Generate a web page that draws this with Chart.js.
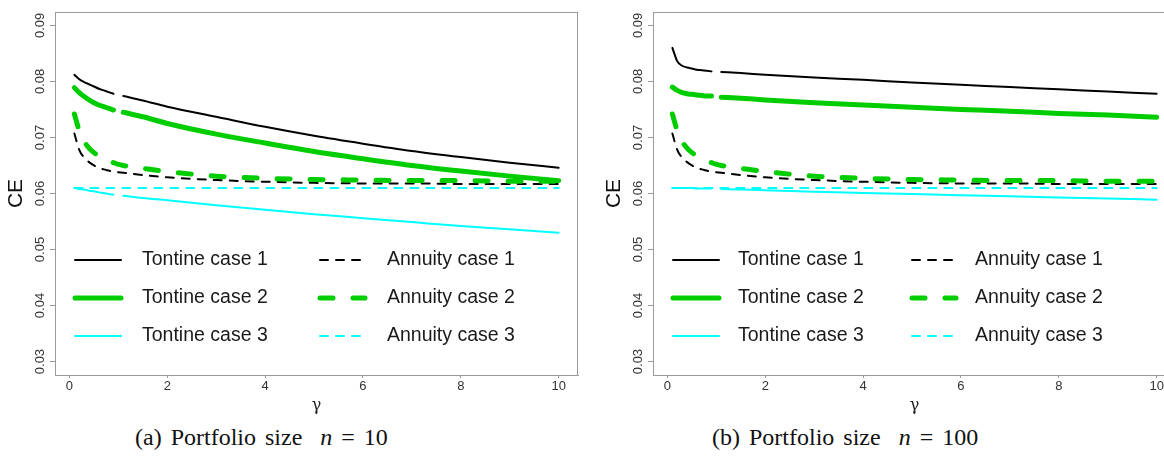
<!DOCTYPE html>
<html>
<head>
<meta charset="utf-8">
<script src="https://cdn.jsdelivr.net/npm/chart.js@4.4.1/dist/chart.umd.min.js"></script>
<style>
  html, body { margin: 0; padding: 0; background: #fff; }
  #page { position: relative; width: 1164px; height: 460px; overflow: hidden; background: #fff; }
  canvas { position: absolute; top: 0; }
  .cap {
    position: absolute; top: 424px; white-space: nowrap;
    font-family: "Liberation Serif", serif; font-size: 24px; word-spacing: 3px; color: #111;
  }
</style>
</head>
<body>
<div id="page">
  <canvas id="chartA" width="590" height="420" style="left:0px"></canvas>
  <canvas id="chartB" width="590" height="420" style="left:598px"></canvas>
  <div class="cap" style="left:135px">(a) Portfolio size&nbsp; <i>n</i> = 10</div>
  <div class="cap" style="left:712px">(b) Portfolio size&nbsp; <i>n</i> = 100</div>
</div>
<script>
// gamma grid (gamma = 1 is left out of the tontine curves)
const gammaGrid = [0.1, 0.2, 0.3, 0.4, 0.5, 0.6, 0.7, 0.8, 0.9, 1.0, 1.1, 1.5, 2, 3, 4, 5, 6, 7, 8, 9, 10];

const xTickValues = [0, 2, 4, 6, 8, 10];
const yTickValues = [0.03, 0.04, 0.05, 0.06, 0.07, 0.08, 0.09];

// annuities do not depend on portfolio size
const annuity1 = [0.0707, 0.0678, 0.0664, 0.0656, 0.0650, 0.0646, 0.0643, 0.0641, 0.0639, 0.0638, 0.0637, 0.0633, 0.0629, 0.0624, 0.0621, 0.0619, 0.0618, 0.0618, 0.0617, 0.0617, 0.0617];
const annuity2 = [0.0742, 0.0712, 0.0693, 0.0681, 0.0673, 0.0667, 0.0662, 0.0658, 0.0655, 0.0652, 0.0650, 0.0645, 0.0639, 0.0631, 0.0627, 0.0625, 0.0624, 0.0623, 0.0623, 0.0622, 0.0622];
const annuity3 = [0.0610, 0.0610, 0.0610, 0.0610, 0.0610, 0.0610, 0.0610, 0.0610, 0.0610, 0.0610, 0.0610, 0.0610, 0.0610, 0.0610, 0.0610, 0.0610, 0.0610, 0.0610, 0.0610, 0.0610, 0.0610];

// portfolio size n = 10
const tontine1A = [0.0812, 0.0804, 0.0799, 0.0795, 0.0791, 0.0787, 0.0784, 0.0781, 0.0778, null, 0.0774, 0.0766, 0.0755, 0.0737, 0.0719, 0.0703, 0.0689, 0.0676, 0.0665, 0.0655, 0.0646];
const tontine2A = [0.0789, 0.0780, 0.0773, 0.0767, 0.0762, 0.0758, 0.0755, 0.0752, 0.0749, null, 0.0745, 0.0737, 0.0725, 0.0706, 0.0690, 0.0675, 0.0662, 0.0650, 0.0640, 0.0631, 0.0623];
const tontine3A = [0.0610, 0.0608, 0.0607, 0.0605, 0.0604, 0.0602, 0.0601, 0.0599, 0.0598, null, 0.0596, 0.0592, 0.0588, 0.0579, 0.0571, 0.0563, 0.0556, 0.0549, 0.0542, 0.0536, 0.0530];

// portfolio size n = 100
const tontine1B = [0.0860, 0.0836, 0.0828, 0.0825, 0.0823, 0.0821, 0.0820, 0.0819, 0.0818, null, 0.0817, 0.0815, 0.0812, 0.0807, 0.0803, 0.0798, 0.0794, 0.0790, 0.0786, 0.0782, 0.0778];
const tontine2B = [0.0790, 0.0784, 0.0780, 0.0778, 0.0777, 0.0776, 0.0775, 0.0774, 0.0774, null, 0.0772, 0.0770, 0.0767, 0.0762, 0.0758, 0.0754, 0.0750, 0.0747, 0.0743, 0.0740, 0.0736];
const tontine3B = [0.0610, 0.0610, 0.0610, 0.0610, 0.0610, 0.0609, 0.0609, 0.0609, 0.0609, null, 0.0608, 0.0607, 0.0606, 0.0603, 0.0601, 0.0599, 0.0597, 0.0595, 0.0593, 0.0591, 0.0589];

const legendRows = [
    ['Tontine case 1', 'Annuity case 1'],
    ['Tontine case 2', 'Annuity case 2'],
    ['Tontine case 3', 'Annuity case 3']
];

const GREEN = '#00cd00';
const CYAN = '#00ffff';
const AXIS_GREY = '#9a9a9a';
const FONT = '"Liberation Sans", Arial, sans-serif';

function toPoints(values) {
    return gammaGrid.map((g, i) => ({ x: g, y: values[i] }));
}

function line(label, values, color, width, dash) {
    return {
        label: label,
        data: toPoints(values),
        borderColor: color,
        borderWidth: width,
        borderDash: dash,
        borderCapStyle: 'round',
        borderJoinStyle: 'round',
        pointRadius: 0,
        fill: false,
        cubicInterpolationMode: 'monotone',
        spanGaps: false
    };
}

// R style box round the plot region
const boxPlugin = {
    id: 'plotBox',
    afterDraw(chart) {
        const { ctx, chartArea } = chart;
        ctx.save();
        ctx.strokeStyle = AXIS_GREY;
        ctx.lineWidth = 1;
        ctx.strokeRect(chartArea.left + 0.5, chartArea.top + 0.5, chartArea.width - 1, chartArea.height);
        ctx.restore();
    }
};

// two column legend inside the plot, like legend(..., ncol = 2)
const rLegendPlugin = {
    id: 'rLegend',
    afterDatasetsDraw(chart, args, opts) {
        const { ctx, chartArea } = chart;
        ctx.save();
        ctx.font = '19.5px ' + FONT;
        ctx.textBaseline = 'middle';
        legendRows.forEach((row, r) => {
            const y = chartArea.top + opts.rowY[r];
            row.forEach((label, c) => {
                const ds = chart.data.datasets.find(d => d.label === label);
                const x0 = chartArea.left + opts.lineX[c][0];
                const x1 = chartArea.left + opts.lineX[c][1];
                ctx.beginPath();
                ctx.strokeStyle = ds.borderColor;
                ctx.lineWidth = ds.borderWidth;
                ctx.lineCap = 'round';
                ctx.setLineDash(ds.borderDash || []);
                ctx.moveTo(x0, y);
                ctx.lineTo(x1, y);
                ctx.stroke();
                ctx.setLineDash([]);
                ctx.fillStyle = '#1a1a1a';
                ctx.fillText(label, chartArea.left + opts.textX[c], y);
            });
        });
        ctx.restore();
    }
};

function makeChart(canvasId, t1, t2, t3, legendLayout) {
    const ctx = document.getElementById(canvasId).getContext('2d');
    return new Chart(ctx, {
        type: 'line',
        data: {
            datasets: [
                line('Annuity case 3', annuity3, CYAN, 2, [8, 8]),
                line('Tontine case 3', t3, CYAN, 2, []),
                line('Annuity case 2', annuity2, GREEN, 5, [13, 20]),
                line('Tontine case 2', t2, GREEN, 5, []),
                line('Annuity case 1', annuity1, '#000000', 2, [8, 8]),
                line('Tontine case 1', t1, '#000000', 2, [])
            ]
        },
        options: {
            responsive: false,
            animation: false,
            layout: { padding: { left: 0, top: 12, right: 12, bottom: 0 } },
            plugins: {
                legend: { display: false },
                tooltip: { enabled: false },
                rLegend: legendLayout
            },
            scales: {
                x: {
                    type: 'linear',
                    min: -0.296,
                    max: 10.396,
                    afterBuildTicks: (scale) => { scale.ticks = xTickValues.map(v => ({ value: v })); },
                    afterFit: (scale) => { scale.height = 45; },
                    ticks: {
                        color: '#333',
                        font: { family: FONT, size: 13 },
                        padding: 1,
                        maxRotation: 0,
                        callback: (v) => String(v)
                    },
                    grid: {
                        drawOnChartArea: false,
                        drawTicks: true,
                        tickLength: 3,
                        color: AXIS_GREY
                    },
                    border: { display: true, color: AXIS_GREY },
                    title: {
                        display: true,
                        text: 'γ',
                        color: '#222',
                        font: { family: '"DejaVu Serif", serif', size: 16 },
                        padding: { top: 0, bottom: 5 }
                    }
                },
                y: {
                    type: 'linear',
                    min: 0.0276,
                    max: 0.0924,
                    afterBuildTicks: (scale) => { scale.ticks = yTickValues.map(v => ({ value: v })); },
                    afterFit: (scale) => { scale.width = 55; },
                    ticks: {
                        color: '#333',
                        font: { family: FONT, size: 13 },
                        minRotation: 90,
                        maxRotation: 90,
                        crossAlign: 'center',
                        padding: -3,
                        callback: (v) => v.toFixed(2)
                    },
                    grid: {
                        drawOnChartArea: false,
                        drawTicks: true,
                        tickLength: 5,
                        color: AXIS_GREY
                    },
                    border: { display: true, color: AXIS_GREY },
                    title: {
                        display: true,
                        text: 'CE',
                        color: '#111',
                        font: { family: FONT, size: 21 },
                        padding: { top: 4, bottom: 0 }
                    }
                }
            }
        },
        plugins: [boxPlugin, rLegendPlugin]
    });
}

makeChart('chartA', tontine1A, tontine2A, tontine3A, {
    rowY: [248, 286, 324],
    lineX: [[20, 66], [265, 310]],
    textX: [87, 332]
});

makeChart('chartB', tontine1B, tontine2B, tontine3B, {
    rowY: [248, 286, 324],
    lineX: [[20, 66], [259, 303]],
    textX: [85, 322]
});
</script>
</body>
</html>
